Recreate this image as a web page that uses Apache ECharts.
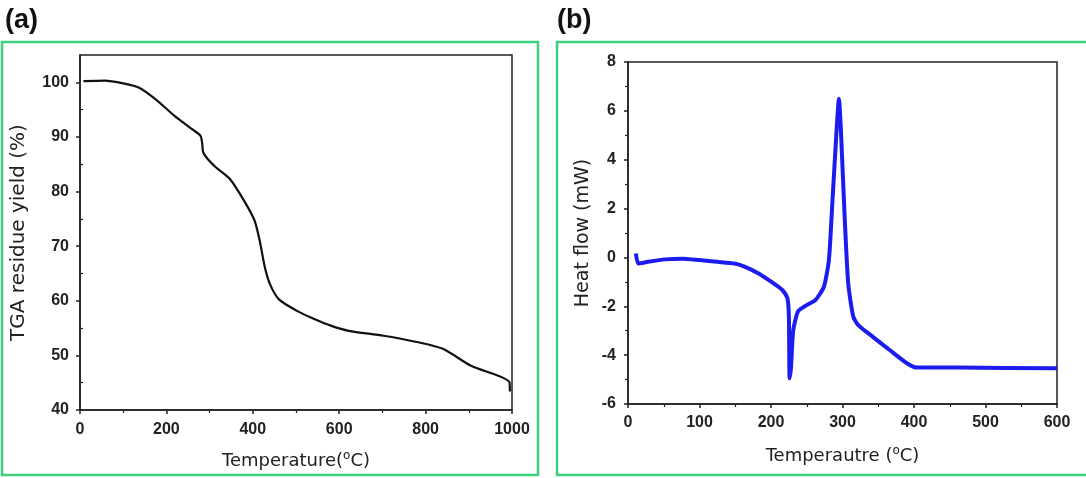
<!DOCTYPE html>
<html>
<head>
<meta charset="utf-8">
<script src="https://cdn.jsdelivr.net/npm/echarts@6/dist/echarts.min.js"></script>
<style>
  html, body { margin: 0; padding: 0; background: #fff; }
  #main { width: 1086px; height: 478px; }
</style>
</head>
<body>
<div id="main"></div>
<script>
// (a) TGA curve
var tgaTemp  = [8, 57, 100, 137, 178, 218, 258, 279, 283, 285, 295, 315, 347, 380, 404, 416, 428, 440, 460, 501, 541, 582, 622, 703, 783, 840, 905, 994, 995];
var tgaYield = [100.2, 100.3, 99.8, 99.0, 96.7, 93.9, 91.5, 90.2, 88.7, 87.2, 86.0, 84.4, 82.3, 78.3, 74.7, 71.0, 66.1, 63.0, 60.3, 58.2, 56.7, 55.4, 54.5, 53.6, 52.4, 51.2, 48.1, 45.1, 43.4];

// (b) DSC curve
var dscTemp = [11, 14.5, 28, 52, 76, 100, 125, 149, 163, 182, 197, 207, 216, 223, 225, 226, 228, 231, 238, 250, 262, 274, 281, 286, 292, 295, 298, 303, 308, 315, 322, 342, 366, 390, 404, 462, 600];
var dscHeat = [0.16, -0.25, -0.18, -0.08, -0.05, -0.11, -0.18, -0.25, -0.38, -0.65, -0.93, -1.13, -1.34, -1.68, -2.4, -4.95, -4.5, -3.0, -2.2, -1.95, -1.75, -1.2, -0.1, 2.34, 5.34, 6.5, 5.07, 1.66, -1.06, -2.42, -2.77, -3.24, -3.79, -4.33, -4.51, -4.51, -4.54];

// tick labels
var tgaTicks = [40, 50, 60, 70, 80, 90, 100];
var tgaMinorTicks = [45, 55, 65, 75, 85, 95];

function pairs(xs, ys) {
    var out = [];
    for (var i = 0; i < xs.length; i++) out.push([xs[i], ys[i]]);
    return out;
}

var green = '#3ccf7c';
var ink = '#222';
var labelFont = { color: ink, fontSize: 16, fontWeight: 'bold', fontFamily: 'Liberation Sans' };

function titleFont(size) {
    return {
        color: ink, fontSize: size, fontFamily: 'DejaVu Sans', lineHeight: 22,
        rich: { sup: { fontSize: 12, fontFamily: 'DejaVu Sans', color: ink, lineHeight: 12, verticalAlign: 'top' } }
    };
}

function valueAxis(idx, min, max, step, extra) {
    var ax = {
        type: 'value', gridIndex: idx, min: min, max: max, interval: step,
        axisLine: { show: true, onZero: false, lineStyle: { color: ink, width: 1.5 } },
        axisTick: { show: true, inside: false, length: 4, lineStyle: { color: ink, width: 1.5 } },
        minorTick: { show: true, splitNumber: 2, length: 3, lineStyle: { color: ink, width: 1.2 } },
        splitLine: { show: false },
        axisLabel: Object.assign({ margin: 7, formatter: function (v) { return String(v); } }, labelFont),
        nameLocation: 'middle'
    };
    return Object.assign(ax, extra);
}

var option = {
    animation: false,
    backgroundColor: '#fff',
    graphic: [
        { type: 'rect', shape: { x: 2, y: 42, width: 536, height: 433 }, style: { fill: 'none', stroke: green, lineWidth: 2.5 } },
        { type: 'rect', shape: { x: 557, y: 42, width: 540, height: 433 }, style: { fill: 'none', stroke: green, lineWidth: 2.5 } },
        { type: 'text', left: 5, top: 7, style: { text: '(a)', font: 'bold 27px "Liberation Sans"', fill: '#111' } },
        { type: 'text', left: 557, top: 7, style: { text: '(b)', font: 'bold 27px "Liberation Sans"', fill: '#111' } }
    ],
    grid: [
        { left: 80, top: 55, width: 432, height: 355, show: true, borderColor: ink, borderWidth: 1.5, backgroundColor: 'transparent' },
        { left: 628, top: 62, width: 429, height: 342, show: true, borderColor: ink, borderWidth: 1.5, backgroundColor: 'transparent' }
    ],
    xAxis: [
        valueAxis(0, 0, 1000, 200, {
            name: 'Temperature({sup|o}C)', nameGap: 40, nameTextStyle: titleFont(18),
            axisLabel: Object.assign({ margin: 12, formatter: function (v) { return String(v); } }, labelFont)
        }),
        valueAxis(1, 0, 600, 100, {
            name: 'Temperautre ({sup|o}C)', nameGap: 41, nameTextStyle: titleFont(18),
            axisLabel: Object.assign({ margin: 11 }, labelFont)
        })
    ],
    yAxis: [
        valueAxis(0, 40, 105, 10, {
            name: 'TGA residue yield (%)', nameGap: 50, nameTextStyle: titleFont(20),
            axisLabel: Object.assign({ margin: 11, customValues: tgaTicks }, labelFont),
            axisTick: { show: true, length: 4, customValues: tgaTicks, lineStyle: { color: ink, width: 1.5 } },
            minorTick: { show: false }
        }),
        valueAxis(1, -6, 8, 2, {
            name: 'Heat flow (mW)', nameGap: 34, nameTextStyle: titleFont(19),
            axisLabel: Object.assign({ margin: 12 }, labelFont)
        }),
        // minor ticks for (a)'s y axis
        {
            type: 'value', gridIndex: 0, min: 40, max: 105,
            axisLine: { show: false }, axisLabel: { show: false }, splitLine: { show: false },
            axisTick: { show: true, length: 3, customValues: tgaMinorTicks, lineStyle: { color: ink, width: 1.2 } }
        }
    ],
    series: [
        {
            type: 'line', xAxisIndex: 0, yAxisIndex: 0,
            data: pairs(tgaTemp, tgaYield),
            smooth: 0.25, showSymbol: false,
            lineStyle: { color: '#111', width: 2.2 }
        },
        {
            type: 'line', xAxisIndex: 1, yAxisIndex: 1,
            data: pairs(dscTemp, dscHeat),
            smooth: 0.2, showSymbol: false,
            lineStyle: { color: '#1c1cf0', width: 4 }
        }
    ]
};

var chart = echarts.init(document.getElementById('main'));
chart.setOption(option);
</script>
</body>
</html>
